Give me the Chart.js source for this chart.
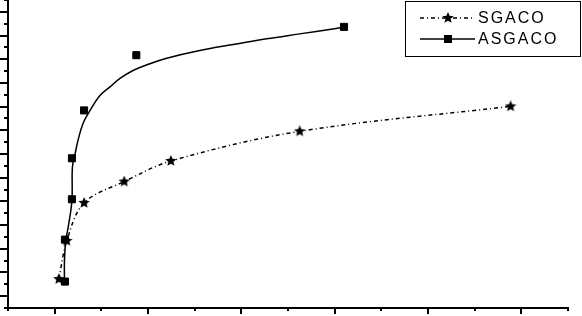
<!DOCTYPE html>
<html>
<head>
<meta charset="utf-8">
<script src="https://cdn.jsdelivr.net/npm/chart.js@4.4.0/dist/chart.umd.min.js"></script>
<style>
html, body { margin: 0; padding: 0; background: #fff; }
</style>
</head>
<body>
<canvas id="chart" width="582" height="316"></canvas>
<script>
// axis ranges in tick units (the picture has no tick labels)
const xMax = 12;
const yMax = 26;

// SGACO points
const sgacoX = [1.09, 1.26, 1.63, 2.49, 3.49, 6.25, 10.77];
const sgacoY = [2.44, 5.67, 8.87, 10.67, 12.41, 14.91, 17.02];

// ASGACO points
const asgacoX = [1.22, 1.22, 1.37, 1.37, 1.63, 2.75, 7.20];
const asgacoY = [2.23, 5.77, 9.18, 12.64, 16.68, 21.34, 23.73];

// ASGACO curve
const asgacoCurveX = [1.21, 1.21, 1.24, 1.29, 1.37, 1.38, 1.44, 1.50, 1.61, 1.76, 1.97, 2.18, 2.40, 2.68, 3.04, 3.40, 4.11, 4.82, 5.54, 6.25, 6.96, 7.20];
const asgacoCurveY = [2.22, 4.04, 5.73, 6.82, 9.10, 11.88, 13.06, 14.15, 15.59, 16.68, 17.94, 18.64, 19.38, 20.05, 20.62, 21.09, 21.74, 22.24, 22.72, 23.14, 23.56, 23.73];

const pts = (xs, ys) => xs.map((v, i) => ({x: v, y: ys[i]}));

function starImage(size) {
    const c = document.createElement('canvas');
    c.width = c.height = size;
    const g = c.getContext('2d');
    const cx = size / 2, cy = size / 2, ro = size / 2, ri = ro * 0.45;
    g.beginPath();
    for (let i = 0; i < 10; i++) {
        const r = i % 2 ? ri : ro;
        const a = -Math.PI / 2 + i * Math.PI / 5;
        g.lineTo(cx + r * Math.cos(a), cy + r * Math.sin(a));
    }
    g.closePath();
    g.fillStyle = '#000';
    g.fill();
    return c;
}
const star = starImage(12);
const sgacoDash = [4, 3, 1, 3];

// little tick marks, long on odd units, short on even
const axisTicks = {
    id: 'axisTicks',
    afterDraw(chart) {
        const {ctx, scales: {x, y}} = chart;
        ctx.save();
        ctx.strokeStyle = '#000';
        ctx.lineWidth = 2;
        for (let k = 0; k <= xMax; k++) {
            const px = Math.round(x.getPixelForValue(k));
            const len = k % 2 ? 6 : 3;
            ctx.beginPath();
            ctx.moveTo(px, y.bottom);
            ctx.lineTo(px, y.bottom + len);
            ctx.stroke();
        }
        for (let j = 0; j <= yMax; j++) {
            const py = Math.round(y.getPixelForValue(j));
            const len = j % 2 ? 8 : 4;
            ctx.beginPath();
            ctx.moveTo(x.left, py);
            ctx.lineTo(x.left - len, py);
            ctx.stroke();
        }
        ctx.restore();
    }
};

// boxed legend with line samples
const boxLegend = {
    id: 'boxLegend',
    afterDraw(chart) {
        const ctx = chart.ctx;
        ctx.save();
        ctx.strokeStyle = '#000';
        ctx.lineWidth = 1;
        ctx.strokeRect(405.5, 1.5, 175, 55);
        const rows = [
            {label: 'SGACO', dash: sgacoDash, marker: 'star', y: 18},
            {label: 'ASGACO', dash: [], marker: 'rect', y: 39}
        ];
        ctx.font = '16px "Liberation Sans", Arial, sans-serif';
        ctx.letterSpacing = '2px';
        ctx.textBaseline = 'middle';
        ctx.fillStyle = '#000';
        rows.forEach(r => {
            ctx.setLineDash(r.dash);
            ctx.lineWidth = 1.5;
            ctx.beginPath();
            ctx.moveTo(420, r.y);
            ctx.lineTo(475, r.y);
            ctx.stroke();
            ctx.setLineDash([]);
            if (r.marker === 'star') {
                ctx.drawImage(star, 448 - 6, r.y - 6);
            } else {
                ctx.fillRect(444, r.y - 4, 8, 8);
            }
            ctx.fillText(r.label, 478, r.y + 1);
        });
        ctx.restore();
    }
};

new Chart(document.getElementById('chart'), {
    type: 'scatter',
    data: {
        datasets: [
            {
                label: 'SGACO',
                data: pts(sgacoX, sgacoY),
                showLine: true,
                tension: 0.35,
                borderColor: '#000',
                borderWidth: 1.5,
                borderDash: sgacoDash,
                pointStyle: star,
                pointRadius: 6,
                pointBackgroundColor: '#000'
            },
            {
                label: 'ASGACO curve',
                data: pts(asgacoCurveX, asgacoCurveY),
                showLine: true,
                tension: 0.4,
                borderColor: '#000',
                borderWidth: 1.5,
                pointRadius: 0
            },
            {
                label: 'ASGACO',
                data: pts(asgacoX, asgacoY),
                showLine: false,
                pointStyle: 'rect',
                pointRadius: 5,
                pointBorderWidth: 1,
                pointBorderColor: '#000',
                pointBackgroundColor: '#000'
            }
        ]
    },
    options: {
        responsive: false,
        animation: false,
        layout: {autoPadding: false, padding: {left: 8, right: 14, top: 0, bottom: 8}},
        plugins: {
            legend: {display: false},
            tooltip: {enabled: false}
        },
        scales: {
            x: {
                type: 'linear',
                min: 0,
                max: xMax,
                ticks: {display: false},
                grid: {display: false},
                border: {display: true, color: '#000', width: 2},
                afterFit(scale) { scale.height = 0; }
            },
            y: {
                type: 'linear',
                min: 0,
                max: yMax,
                ticks: {display: false},
                grid: {display: false},
                border: {display: true, color: '#000', width: 2},
                afterFit(scale) { scale.width = 0; }
            }
        }
    },
    plugins: [axisTicks, boxLegend]
});
</script>
</body>
</html>
